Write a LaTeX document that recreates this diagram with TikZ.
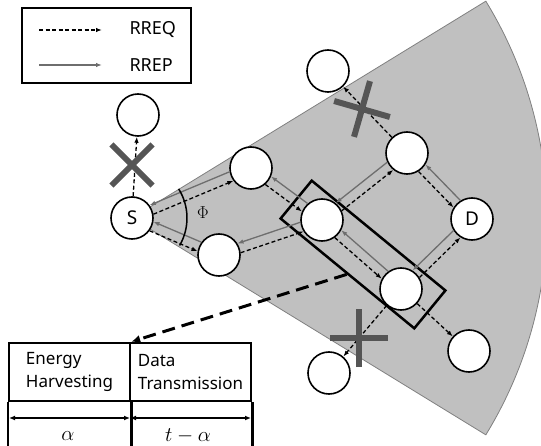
\documentclass[tikz,border=0pt]{standalone}
\usepackage{fontspec}
\setmainfont{Noto Sans}
\usetikzlibrary{arrows.meta}
\definecolor{sectorgray}{HTML}{C0C0C0}
\definecolor{repgray}{HTML}{6E6E6E}
\definecolor{crossgray}{HTML}{555555}

\begin{document}
\begin{tikzpicture}[x=1pt,y=1pt,
	hop/.style={circle,draw,line width=1.6pt,fill=white,minimum size=42pt,inner sep=0pt,font=\fontsize{19}{19}\selectfont},
	req/.style={-{Latex[length=6pt,width=4.5pt]},line width=1.3pt,dash pattern=on 4pt off 2.5pt},
	rep/.style={-{Latex[length=6pt,width=4.5pt]},line width=1.3pt,repgray},
	blocked/.style={line width=6pt,crossgray},
	cell/.style={draw,line width=2.5pt,minimum width=121pt,minimum height=58pt,align=left,inner sep=0pt,font=\fontsize{17}{23}\selectfont},
	lbl/.style={font=\fontsize{18}{18}\selectfont},
	mlbl/.style={font=\fontsize{22}{22}\selectfont}]
	\useasboundingbox (0,0) rectangle (541,445);
	\clip (0,0) rectangle (541,445);
	\filldraw[fill=sectorgray,draw=gray,line width=0.8pt]
		(132,227) -- ++(31.5:415) arc[start angle=31.5,end angle=-31.5,radius=415] -- cycle;
	\node[draw,line width=2.5pt,rotate=-39.4,minimum width=173pt,minimum height=49pt] (sel) at (363,190.5) {};
	\node[hop] (S) at (132,227) {S};
	\node[hop] (N0) at (138,330) {};
	\node[hop] (A1) at (251,277) {};
	\node[hop] (B1) at (219,190) {};
	\node[hop] (M) at (322,225) {};
	\node[hop] (U) at (407,292) {};
	\node[hop] (T) at (328,374) {};
	\node[hop] (D) at (472,226) {D};
	\node[hop] (L) at (401,156) {};
	\node[hop] (R) at (469,94) {};
	\node[hop] (BL) at (329,72) {};
	\foreach \a/\b/\t [evaluate=\t as \qa using int(\t-13), evaluate=\t as \qb using int(\t+193),
			evaluate=\t as \pa using int(\t+13), evaluate=\t as \pb using int(\t+167)]
		in {S/A1/23,S/B1/-23,A1/M/-36,B1/M/19,M/U/38,M/L/-41,U/D/-45,L/D/45}
	{
		\draw[req] (\a.\qa) -- (\b.\qb);
		\draw[rep] (\b.\pb) -- (\a.\pa);
	}
	\foreach \a/\b/\t [evaluate=\t as \tb using int(\t+180)] in {S/N0/87,U/T/134,L/R/-42,L/BL/-131}
		\draw[req] (\a.\t) -- (\b.\tb);
	\draw[blocked,shift={(132,280)},rotate=45] (-29,0) -- (29,0) (0,-29) -- (0,29);
	\draw[blocked,shift={(362,336)},rotate=-16] (-29,0) -- (29,0) (0,-29) -- (0,29);
	\draw[blocked,shift={(359,107)}] (-29,0) -- (29,0) (0,-29) -- (0,29);
	\draw[line width=1.5pt] (S.center) ++(-30:55) arc[start angle=-30,end angle=32,radius=55];
	\node[lbl] (phi) at (203,232) {$\Phi$};
	\draw[line width=1.5pt] (22,362) rectangle (191,437);
	\coordinate (q1) at (39,415);
	\coordinate (q2) at (102,415);
	\coordinate (p1) at (39,380);
	\coordinate (p2) at (102,380);
	\draw[req] (q1) -- (q2);
	\draw[rep] (p1) -- (p2);
	\node[lbl,anchor=west] (rreq) at (126,415) {RREQ};
	\node[lbl,anchor=west] (rrep) at (126,380) {RREP};
	\node[cell] (eh) at (69.5,73) {Energy\\Harvesting};
	\node[cell] (dt) at (190.5,73) {Data\\Transmission};
	\draw[line width=2.5pt] (eh.south west) -- ++(0,-46) (eh.south east) -- ++(0,-46) (dt.south east) -- ++(0,-46);
	\draw[{Latex[length=6pt,width=5pt]}-{Latex[length=6pt,width=5pt]},line width=1.5pt] (9,27) -- (130,27);
	\draw[{Latex[length=6pt,width=5pt]}-{Latex[length=6pt,width=5pt]},line width=1.5pt] (130,27) -- (251,27);
	\node[mlbl] (ta) at (68,9) {$\alpha$};
	\node[mlbl] (tb) at (188,9) {$t-\alpha$};
	\draw[line width=3pt,dash pattern=on 13pt off 7pt,-{Latex[length=9pt,width=8pt]}] (sel.south) -- (eh.north east);
\end{tikzpicture}
\end{document}
